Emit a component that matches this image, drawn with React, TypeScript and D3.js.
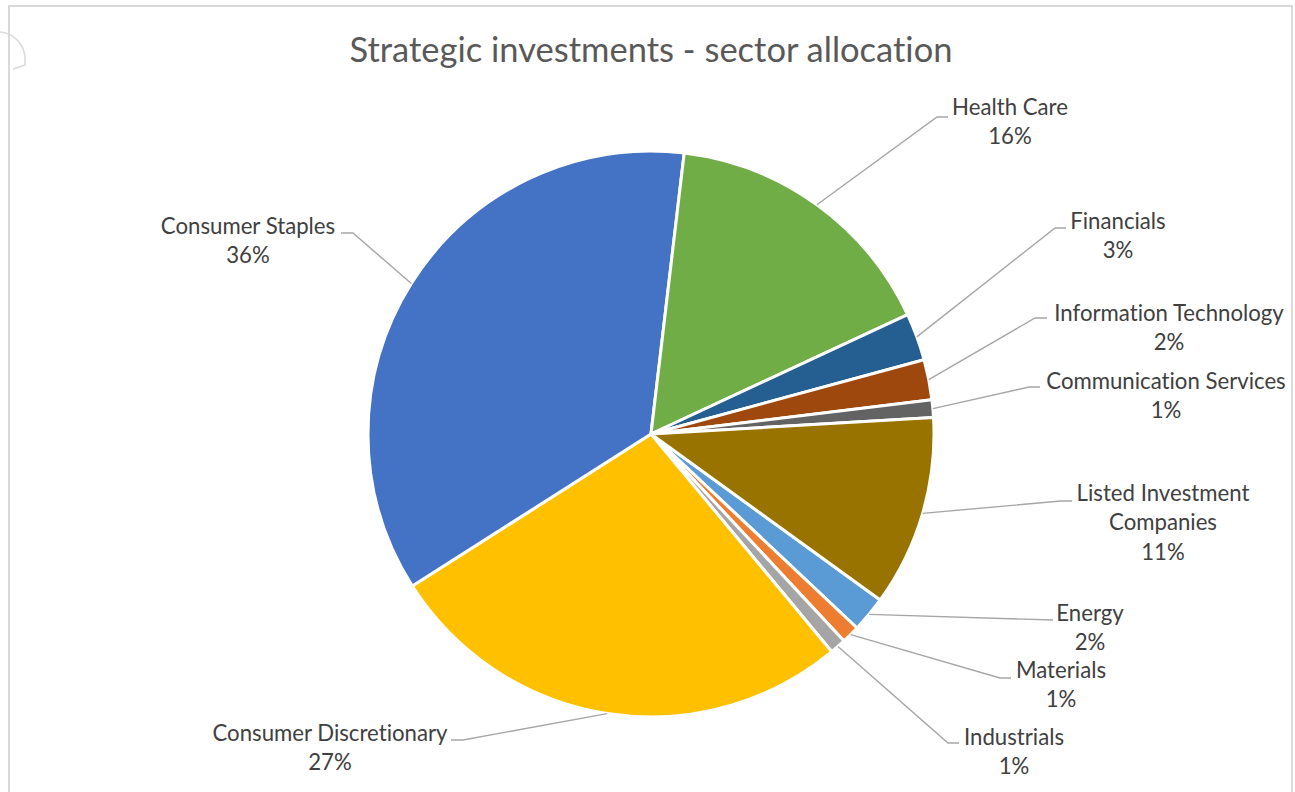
import { useRef, useEffect } from 'react';
import * as d3 from 'd3';

// Data in Excel series order (colours follow the Office theme order)
const sectors = [
  'Energy',
  'Materials',
  'Industrials',
  'Consumer Discretionary',
  'Consumer Staples',
  'Health Care',
  'Financials',
  'Information Technology',
  'Communication Services',
  'Listed Investment Companies',
];
const weights = [2.05, 1.03, 0.92, 27.0, 35.9, 16.2, 2.7, 2.3, 1.0, 10.9];
const colors = [
  '#5B9BD5', '#ED7D31', '#A5A5A5', '#FFC000', '#4472C4',
  '#70AD47', '#255E91', '#9E480E', '#636363', '#997300',
];

// Label lines (text wrapped the way Excel did it)
const labelLines = [
  ['Energy'],
  ['Materials'],
  ['Industrials'],
  ['Consumer Discretionary'],
  ['Consumer Staples'],
  ['Health Care'],
  ['Financials'],
  ['Information Technology'],
  ['Communication Services'],
  ['Listed Investment', 'Companies'],
];

// Manual label placement: text centre x, first line y, leader elbow and end
const labelLayout = [
  { cx: 1090, y: 613, elbow: [1053, 620], end: [1053, 620] },
  { cx: 1061, y: 670, elbow: [1000, 678], end: [1011, 678] },
  { cx: 1014, y: 737, elbow: [948, 743], end: [959, 743] },
  { cx: 330, y: 733, elbow: [463, 740], end: [451, 740] },
  { cx: 248, y: 226, elbow: [353, 233], end: [341, 233] },
  { cx: 1010, y: 107, elbow: [937, 117], end: [948, 117] },
  { cx: 1118, y: 221, elbow: [1055, 228], end: [1066, 228] },
  { cx: 1169, y: 313, elbow: [1035, 318], end: [1047, 318] },
  { cx: 1166, y: 381, elbow: [1029, 387], end: [1040, 387] },
  { cx: 1163, y: 493, elbow: [1061, 501], end: [1072, 501] },
];

const WIDTH = 1295;
const HEIGHT = 792;
const FONT = 'Lato, "Open Sans", sans-serif';

export default function App() {
  const svgRef = useRef<SVGSVGElement>(null);

  useEffect(() => {
    if (!svgRef.current) return;
    const svg = d3.select(svgRef.current);
    svg.selectAll('*').remove();

    const cx = 651;
    const cy = 434;
    const radius = 283;
    const startAngle = (125.9 * Math.PI) / 180;

    // chart area border
    svg
      .append('rect')
      .attr('x', 9)
      .attr('y', 6)
      .attr('width', 1283)
      .attr('height', 820)
      .attr('fill', '#fff')
      .attr('stroke', '#d9d9d9')
      .attr('stroke-width', 2);

    // little handle artifact at the top-left corner
    svg
      .append('path')
      .attr('d', 'M0,32 A27,27 0 0 1 25,58 L25,65 L13,69')
      .attr('fill', 'none')
      .attr('stroke', '#d9d9d9')
      .attr('stroke-width', 1.5);

    svg
      .append('text')
      .attr('x', cx)
      .attr('y', 50)
      .attr('dy', '0.35em')
      .attr('text-anchor', 'middle')
      .attr('fill', '#595959')
      .attr('font-family', FONT)
      .attr('font-size', '34.5px')
      .style('font-variant-ligatures', 'none')
      .text('Strategic investments - sector allocation');

    const pie = d3
      .pie<number>()
      .sort(null)
      .value((d) => d)
      .startAngle(startAngle)
      .endAngle(startAngle + 2 * Math.PI);
    const arcs = pie(weights);
    const total = d3.sum(weights);

    const arc = d3.arc<d3.PieArcDatum<number>>().innerRadius(0).outerRadius(radius);

    const g = svg.append('g').attr('transform', `translate(${cx},${cy})`);

    g.selectAll('path.slice')
      .data(arcs)
      .enter()
      .append('path')
      .attr('class', 'slice')
      .attr('d', arc)
      .attr('fill', (_, i) => colors[i])
      .attr('stroke', '#fff')
      .attr('stroke-width', 3)
      .attr('stroke-linejoin', 'round');

    // leader lines
    arcs.forEach((a, i) => {
      const mid = (a.startAngle + a.endAngle) / 2;
      const sx = cx + radius * Math.sin(mid);
      const sy = cy - radius * Math.cos(mid);
      const L = labelLayout[i];
      svg
        .append('polyline')
        .attr('points', `${sx},${sy} ${L.elbow[0]},${L.elbow[1]} ${L.end[0]},${L.end[1]}`)
        .attr('fill', 'none')
        .attr('stroke', '#a6a6a6')
        .attr('stroke-width', 1.4);
    });

    // labels
    arcs.forEach((a, i) => {
      const L = labelLayout[i];
      const lines = [...labelLines[i], `${Math.round((a.value / total) * 100)}%`];
      const t = svg
        .append('text')
        .attr('text-anchor', 'middle')
        .attr('fill', '#404040')
        .attr('font-family', FONT)
        .attr('font-size', '22.2px')
        .style('font-variant-ligatures', 'none');
      lines.forEach((ln, j) => {
        t.append('tspan')
          .attr('x', L.cx)
          .attr('y', L.y + j * 29.5)
          .attr('dy', '0.35em')
          .text(ln);
      });
    });
  }, []);

  return (
    <div style={{ position: 'fixed', left: 0, top: 0, width: WIDTH, height: HEIGHT, background: '#fff' }}>
      <svg ref={svgRef} width={WIDTH} height={HEIGHT} />
    </div>
  );
}
